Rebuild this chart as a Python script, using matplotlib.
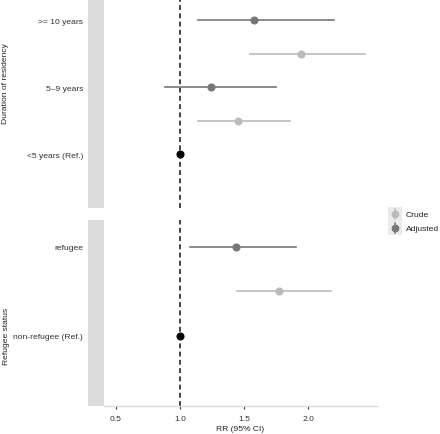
import matplotlib
matplotlib.use("Agg")
import matplotlib.pyplot as plt

plt.rcParams['font.family'] = ['Liberation Sans', 'DejaVu Sans']

# Data
dur_labels = [">= 10 years", "5\u20139 years", "<5 years (Ref.)"]
dur_adj = [1.58, 1.24, 1.0]
dur_adj_lo = [1.14, 0.88, 1.0]
dur_adj_hi = [2.20, 1.75, 1.0]
dur_crude = [1.945, 1.45]
dur_crude_lo = [1.55, 1.14]
dur_crude_hi = [2.445, 1.86]

ref_labels = ["refugee", "non-refugee (Ref.)"]
ref_adj = [1.435, 1.0]
ref_adj_lo = [1.08, 1.0]
ref_adj_hi = [1.91, 1.0]
ref_crude = [1.775]
ref_crude_lo = [1.445]
ref_crude_hi = [2.18]

xticks = [0.5, 1.0, 1.5, 2.0]

c_crude = "#BBBBBB"
c_adj = "#777777"
c_strip = "#DCDCDC"
c_axis = "#D9D9D9"
c_text = "#333333"
fs = 6.1

W, H = 440, 435
fig = plt.figure(figsize=(W / 100, H / 100), dpi=100)


def px_axes(x0, y0, x1, y1):
    return fig.add_axes([x0 / W, 1 - y1 / H, (x1 - x0) / W, (y1 - y0) / H])


def panel(ax, labels, adj, lo, hi, crude, clo, chi, ylim):
    for i in range(len(crude)):
        y = i + 0.5
        ax.plot([clo[i], chi[i]], [y, y], color=c_crude, lw=1.2, zorder=2)
        ax.plot(crude[i], y, 'o', color=c_crude, ms=4.8, zorder=3)
    for i in range(len(adj)):
        if lo[i] == hi[i]:
            ax.plot(adj[i], i, 'o', color='black', ms=4.8, zorder=4)
        else:
            ax.plot([lo[i], hi[i]], [i, i], color=c_adj, lw=1.2, zorder=2)
            ax.plot(adj[i], i, 'o', color=c_adj, ms=4.8, zorder=3)
    ax.axvline(1.0, color='#111111', lw=1.1, ls=(0, (3.2, 2.2)), zorder=1)
    ax.set_xlim(0.406, 2.539)
    ax.set_ylim(*ylim)
    ax.set_yticks(range(len(labels)))
    ax.set_yticklabels(labels, fontsize=fs, color=c_text)
    ax.tick_params(axis='y', length=0, pad=15)
    for s in ax.spines.values():
        s.set_visible(False)


ax1 = px_axes(104, 1, 377, 209)
panel(ax1, dur_labels, dur_adj, dur_adj_lo, dur_adj_hi,
      dur_crude, dur_crude_lo, dur_crude_hi, (2.806, -0.3))
ax1.set_xticks([])

ax2 = px_axes(104, 221, 377, 407)
panel(ax2, ref_labels, ref_adj, ref_adj_lo, ref_adj_hi,
      ref_crude, ref_crude_lo, ref_crude_hi, (1.787, -0.303))
ax2.set_xticks(xticks)
ax2.set_xticklabels([f"{v:.1f}" for v in xticks], fontsize=fs, color=c_text)
ax2.tick_params(axis='x', length=2.5, width=0.8, color='#333333', pad=4)
ax2.spines['bottom'].set_visible(True)
ax2.spines['bottom'].set_color(c_axis)
ax2.spines['bottom'].set_linewidth(1.0)
ax2.set_xlabel("RR (95% CI)", fontsize=fs, color='#222222', labelpad=2)

# facet strips (gray bar) and their titles
for (y0, y1, ty, lab) in [(1, 209, 84, "Duration of residency"),
                          (221, 407, 336, "Refugee status")]:
    sa = px_axes(88, y0, 104, y1)
    sa.set_facecolor(c_strip)
    sa.set_xticks([])
    sa.set_yticks([])
    for s in sa.spines.values():
        s.set_visible(False)
    fig.text(6 / W, 1 - ty / H, lab, rotation=90, ha='center', va='center',
             fontsize=fs, color='#222222')

# legend
lg = px_axes(388, 208, 402, 236)
lg.set_xlim(0, 1)
lg.set_ylim(2, 0)
lg.axis('off')
for k, (col, name) in enumerate([(c_crude, "Crude"), (c_adj, "Adjusted")]):
    lg.add_patch(plt.Rectangle((0, k), 1, 1, color='#EBEBEB', lw=0))
    lg.plot([0.5, 0.5], [k + 0.15, k + 0.85], color=col, lw=1.1)
    lg.plot(0.5, k + 0.5, 'o', color=col, ms=4.6)
    fig.text(406 / W, 1 - (208 + 14 * k + 7.5) / H, name, ha='left', va='center',
             fontsize=fs, color='#222222')

fig.savefig("out.png", dpi=100)
